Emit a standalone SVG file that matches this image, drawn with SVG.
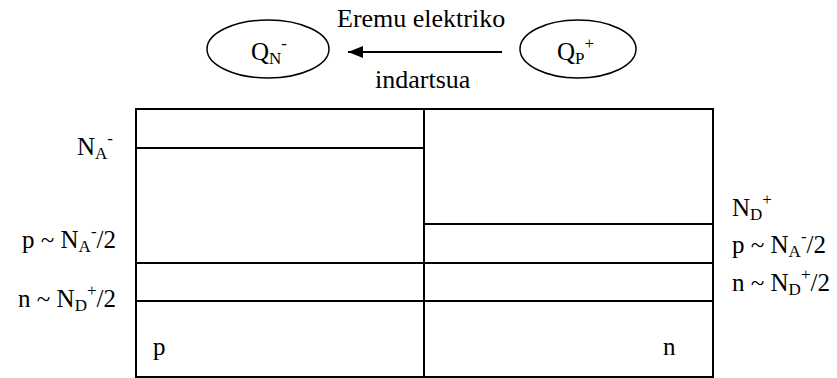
<svg xmlns="http://www.w3.org/2000/svg" width="837" height="378" viewBox="0 0 837 378">
<defs>
<marker id="ah" markerWidth="16" markerHeight="12" refX="15" refY="6" orient="auto" markerUnits="userSpaceOnUse">
<path d="M0,0 L15,6 L0,12 Z" fill="#000"/>
</marker>
</defs>
<g id="qn">
<ellipse cx="268" cy="49" rx="61" ry="29" fill="none" stroke="#000" stroke-width="1.5"/>
<text x="251" y="60" font-family="Liberation Serif" font-size="25">Q<tspan font-size="17" dy="4">N</tspan><tspan font-size="17" dy="-15">-</tspan></text>
</g>
<g id="qp">
<ellipse cx="578" cy="49" rx="58" ry="29" fill="none" stroke="#000" stroke-width="1.5"/>
<text x="557" y="60" font-family="Liberation Serif" font-size="25">Q<tspan font-size="17" dy="4">P</tspan><tspan font-size="17" dy="-15">+</tspan></text>
</g>
<g id="connectors">
<line x1="502" y1="52" x2="348" y2="52" stroke="#000" stroke-width="2" marker-end="url(#ah)"/>
</g>
<g id="field-label" font-family="Liberation Serif" font-size="26">
<text x="337" y="27">Eremu elektriko</text>
<text x="375" y="88">indartsua</text>
</g>
<g id="junction" fill="none" stroke="#000" stroke-width="2">
<rect x="136" y="109" width="577" height="268"/>
<line x1="424" y1="109" x2="424" y2="377"/>
<line x1="136" y1="148" x2="424" y2="148"/>
<line x1="424" y1="224" x2="713" y2="224"/>
<line x1="136" y1="263" x2="713" y2="263"/>
<line x1="136" y1="301" x2="713" y2="301"/>
</g>
<g id="region-labels" font-family="Liberation Serif" font-size="25">
<text x="153" y="355">p</text>
<text x="663" y="355">n</text>
</g>
<g id="left-labels" font-family="Liberation Serif" font-size="25" text-anchor="end">
<text x="113" y="155">N<tspan font-size="17" dy="4">A</tspan><tspan font-size="17" dy="-15">-</tspan></text>
<text x="116" y="248">p ~ N<tspan font-size="17" dy="4">A</tspan><tspan font-size="17" dy="-15">-</tspan><tspan dy="11">/2</tspan></text>
<text x="116" y="307">n ~ N<tspan font-size="17" dy="4">D</tspan><tspan font-size="17" dy="-15">+</tspan><tspan dy="11">/2</tspan></text>
</g>
<g id="right-labels" font-family="Liberation Serif" font-size="25">
<text x="732" y="216">N<tspan font-size="17" dy="4">D</tspan><tspan font-size="17" dy="-15">+</tspan></text>
<text x="732" y="253">p ~ N<tspan font-size="17" dy="4">A</tspan><tspan font-size="17" dy="-15">-</tspan><tspan dy="11">/2</tspan></text>
<text x="732" y="291">n ~ N<tspan font-size="17" dy="4">D</tspan><tspan font-size="17" dy="-15">+</tspan><tspan dy="11">/2</tspan></text>
</g>
</svg>
